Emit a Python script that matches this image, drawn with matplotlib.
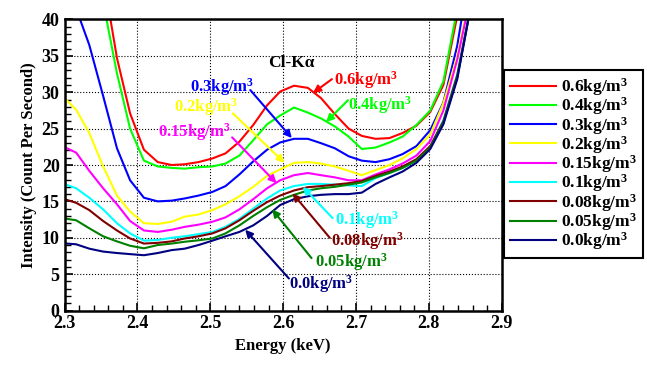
import numpy as np
import matplotlib.pyplot as plt
from matplotlib.ticker import MultipleLocator

plt.rcParams['font.family'] = ['Liberation Serif', 'DejaVu Serif']
plt.rcParams['font.weight'] = 'bold'
plt.rcParams['mathtext.fontset'] = 'custom'
plt.rcParams['mathtext.rm'] = 'Liberation Serif:bold'
plt.rcParams['mathtext.it'] = 'Liberation Serif:bold:italic'
plt.rcParams['mathtext.bf'] = 'Liberation Serif:bold'

# energie des canaux (keV)
energy = [2.297, 2.316, 2.334, 2.353, 2.372, 2.390, 2.409, 2.428, 2.447, 2.465,
          2.484, 2.503, 2.521, 2.540, 2.559, 2.578, 2.596, 2.615, 2.634, 2.652,
          2.671, 2.690, 2.708, 2.727, 2.746, 2.764, 2.783, 2.802, 2.820, 2.839,
          2.858]

# intensite (cps) pour chaque densite
i_06 = [80.0, 70.0, 58.0, 46.0, 34.7, 27.1, 22.1, 20.4, 20.0, 20.1,
        20.4, 20.9, 21.6, 23.2, 25.5, 28.2, 30.1, 30.9, 30.6, 29.2,
        27.0, 25.0, 24.0, 23.6, 23.7, 24.4, 25.4, 27.3, 31.0, 40.5,
        60.0]
i_04 = [90.0, 72.0, 58.0, 42.4, 32.6, 25.0, 20.6, 19.8, 19.6, 19.5,
        19.7, 19.8, 20.2, 21.3, 23.4, 25.6, 26.8, 27.9, 27.2, 26.4,
        25.3, 23.9, 22.2, 22.4, 23.1, 23.9, 25.5, 27.5, 31.5, 41.5,
        62.0]
i_03 = [47.0, 41.5, 36.5, 29.5, 22.3, 17.9, 15.5, 15.0, 15.1, 15.4,
        15.8, 16.3, 17.1, 18.7, 20.5, 22.1, 23.1, 23.6, 23.6, 23.0,
        22.3, 21.2, 20.6, 20.4, 20.8, 21.5, 22.6, 24.8, 28.6, 36.4,
        48.0]
i_02 = [29.5, 27.6, 24.4, 19.8, 15.8, 13.6, 12.0, 11.9, 12.2, 12.9,
        13.2, 13.8, 14.6, 15.7, 17.0, 18.5, 19.4, 20.3, 20.4, 20.2,
        19.8, 19.2, 18.6, 19.3, 20.0, 20.9, 22.2, 24.2, 28.5, 35.0,
        44.0]
i_015 = [22.6, 21.7, 19.2, 16.8, 14.6, 12.3, 11.0, 10.8, 11.1, 11.5,
         11.8, 12.2, 12.8, 13.9, 15.3, 16.8, 17.9, 18.6, 18.9, 18.6,
         18.3, 17.9, 17.9, 18.7, 19.4, 20.2, 21.3, 23.3, 27.5, 34.5,
         43.5]
i_01 = [17.5, 16.8, 15.5, 13.9, 12.0, 10.6, 9.6, 9.7, 10.0, 10.2,
        10.5, 10.8, 11.5, 12.6, 14.0, 15.4, 16.5, 17.1, 17.4, 17.4,
        17.3, 17.2, 17.1, 18.2, 18.9, 19.6, 20.6, 22.5, 26.2, 32.5,
        42.0]
i_008 = [15.4, 14.8, 13.8, 12.3, 11.0, 9.9, 9.2, 9.3, 9.5, 9.9,
         10.2, 10.6, 11.3, 12.4, 13.7, 14.9, 15.8, 16.5, 16.95, 17.1,
         17.3, 17.5, 17.8, 18.5, 19.1, 19.8, 20.8, 22.6, 26.0, 32.3,
         42.0]
i_005 = [12.7, 12.4, 11.3, 10.2, 9.5, 8.9, 8.55, 9.0, 9.2, 9.45,
         9.65, 9.9, 10.6, 11.7, 13.0, 14.2, 15.2, 15.9, 16.5, 16.8,
         17.0, 17.3, 17.6, 18.3, 18.9, 19.6, 20.6, 22.4, 25.8, 32.0,
         42.0]
i_00 = [9.25, 9.1, 8.5, 8.1, 7.9, 7.75, 7.6, 7.9, 8.3, 8.5,
        9.0, 9.6, 10.2, 10.8, 11.7, 13.0, 14.5, 15.3, 15.7, 15.9,
        16.0, 16.0, 16.2, 17.4, 18.3, 19.1, 20.3, 22.2, 25.6, 31.8,
        42.0]

densites = ['0.6', '0.4', '0.3', '0.2', '0.15', '0.1', '0.08', '0.05', '0.0']
series = [i_06, i_04, i_03, i_02, i_015, i_01, i_008, i_005, i_00]
couleurs = ['#ff0000', '#00ff00', '#0000ff', '#ffff00', '#ff00ff',
            '#00ffff', '#800000', '#008000', '#000080']

fig = plt.figure(figsize=(6.47, 3.70), dpi=100)
ax = fig.add_axes([0.0997, 0.1608, 0.6757, 0.7865])

for d, y, c in zip(densites, series, couleurs):
    ax.plot(energy, y, color=c, lw=1.5, label=d + 'kg/m$^3$')

ax.set_xlim(2.3, 2.9)
ax.set_ylim(0, 40)
ax.xaxis.set_major_locator(MultipleLocator(0.1))
ax.xaxis.set_minor_locator(MultipleLocator(0.02))
ax.yaxis.set_major_locator(MultipleLocator(5))
ax.yaxis.set_minor_locator(MultipleLocator(1))
ax.tick_params(which='both', direction='in', labelsize=13)
ax.tick_params(which='major', length=6, width=1.2)
ax.tick_params(which='minor', length=4, width=1.0)
ax.grid(True, which='major', color='black', ls=':', lw=0.8)
for s in ax.spines.values():
    s.set_linewidth(1.8)

ax.set_xlabel('Energy (keV)', fontsize=12, fontweight='bold')
ax.set_ylabel('Intensity (Count Per Second)', fontsize=12, fontweight='bold',
              labelpad=3)

ax.text(2.611, 34.0, 'Cl-K\u03b1', fontsize=12.5, ha='center', va='center')

# etiquettes + fleches : (texte x, texte y, depart x, depart y, pointe x, pointe y)
annot = [(2.714, 31.7, 2.667, 31.8, 2.641, 29.9),
         (2.733, 28.2, 2.689, 28.9, 2.659, 25.9),
         (2.516, 30.7, 2.555, 30.3, 2.612, 23.7),
         (2.494, 28.0, 2.531, 27.1, 2.602, 20.3),
         (2.478, 24.5, 2.530, 23.8, 2.591, 17.5),
         (2.715, 12.4, 2.668, 12.7, 2.627, 17.0),
         (2.716, 9.5, 2.664, 10.0, 2.613, 16.1),
         (2.694, 6.6, 2.639, 7.2, 2.585, 13.9),
         (2.652, 3.7, 2.608, 4.4, 2.548, 11.1)]
for d, c, (tx, ty, sx, sy, px, py) in zip(densites, couleurs, annot):
    ax.text(tx, ty, d + 'kg/m$^3$', color=c, fontsize=12, ha='center', va='center')
    ax.annotate('', xy=(px, py), xytext=(sx, sy),
                arrowprops=dict(arrowstyle='-|>', color=c, lw=1.5,
                                mutation_scale=11, shrinkA=0, shrinkB=0))

leg = ax.legend(loc='upper left', bbox_to_anchor=(1.006, 0.8265), borderaxespad=0,
                fontsize=12.5, fancybox=False, framealpha=1, edgecolor='black',
                handlelength=2.6, handletextpad=0.3, labelspacing=-0.15,
                borderpad=0.35)
leg.get_frame().set_linewidth(1.5)

fig.savefig('out.png', dpi=100)
